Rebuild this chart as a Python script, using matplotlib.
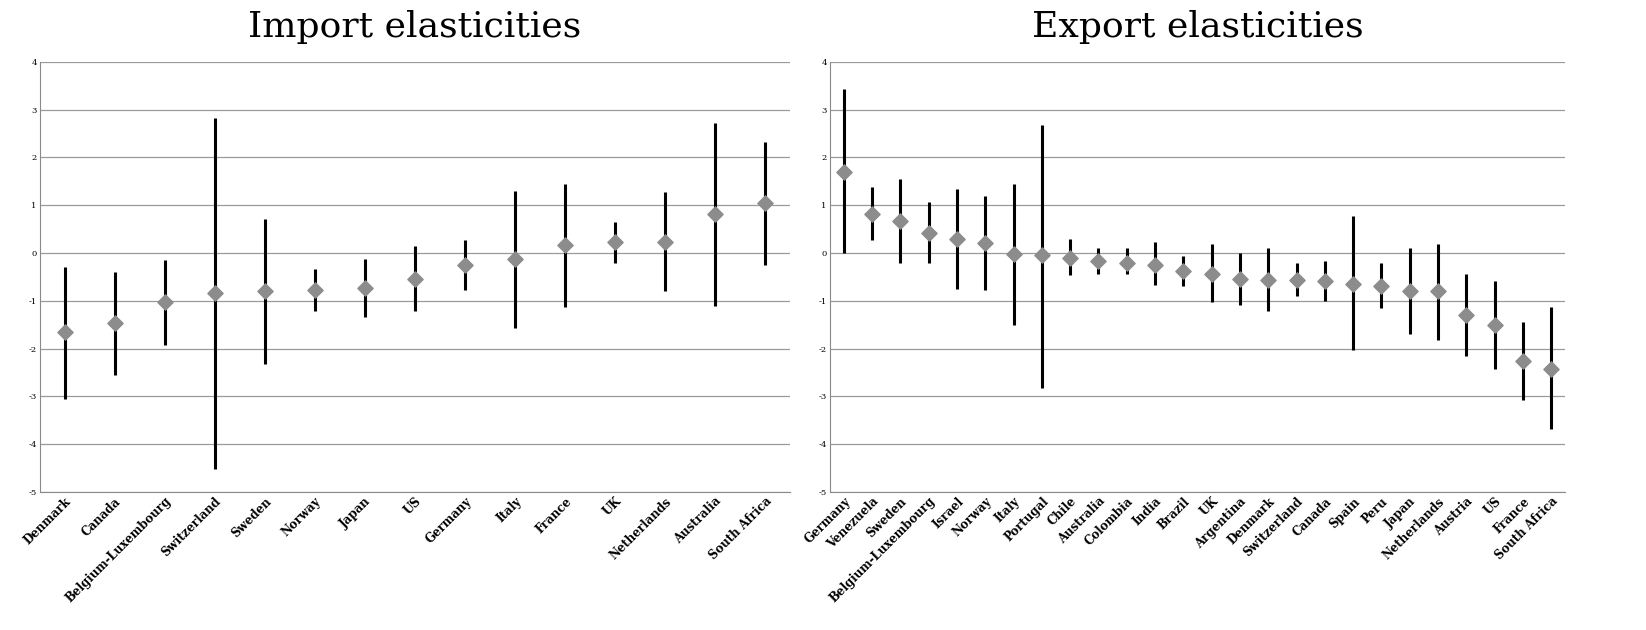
import matplotlib
matplotlib.use("Agg")
import matplotlib.pyplot as plt

imp_countries = ["Denmark","Canada","Belgium-Luxembourg","Switzerland","Sweden","Norway","Japan","US","Germany","Italy","France","UK","Netherlands","Australia","South Africa"]
imp_point = [-1.65,-1.47,-1.03,-0.83,-0.8,-0.78,-0.73,-0.55,-0.25,-0.13,0.17,0.22,0.22,0.82,1.05]
imp_low = [-3.05,-2.55,-1.92,-4.52,-2.33,-1.22,-1.33,-1.22,-0.77,-1.57,-1.12,-0.22,-0.8,-1.1,-0.25]
imp_high = [-0.3,-0.4,-0.15,2.82,0.72,-0.33,-0.13,0.15,0.27,1.3,1.45,0.65,1.27,2.72,2.32]

exp_countries = ["Germany","Venezuela","Sweden","Belgium-Luxembourg","Israel","Norway","Italy","Portugal","Chile","Australia","Colombia","India","Brazil","UK","Argentina","Denmark","Switzerland","Canada","Spain","Peru","Japan","Netherlands","Austria","US","France","South Africa"]
exp_point = [1.7,0.82,0.67,0.42,0.3,0.2,-0.02,-0.05,-0.1,-0.17,-0.2,-0.25,-0.37,-0.43,-0.55,-0.57,-0.57,-0.58,-0.65,-0.7,-0.8,-0.8,-1.3,-1.5,-2.25,-2.42]
exp_low = [0.0,0.28,-0.22,-0.22,-0.75,-0.78,-1.5,-2.82,-0.47,-0.43,-0.45,-0.68,-0.7,-1.03,-1.08,-1.22,-0.9,-1.0,-2.02,-1.15,-1.7,-1.82,-2.15,-2.42,-3.08,-3.68]
exp_high = [3.42,1.38,1.55,1.07,1.33,1.2,1.45,2.67,0.3,0.1,0.1,0.22,-0.07,0.18,0.0,0.1,-0.22,-0.17,0.77,-0.22,0.1,0.18,-0.43,-0.58,-1.45,-1.13]

fig = plt.figure(figsize=(16.46, 6.30), dpi=100)
axes = [fig.add_axes([0.024, 0.219, 0.456, 0.683]), fig.add_axes([0.504, 0.219, 0.447, 0.683])]
data = [(imp_countries, imp_point, imp_low, imp_high, "Import elasticities"),
        (exp_countries, exp_point, exp_low, exp_high, "Export elasticities")]
for ax, (c, p, lo, hi, t) in zip(axes, data):
    x = list(range(len(c)))
    ax.vlines(x, lo, hi, color="black", lw=2.2)
    ax.scatter(x, p, marker="D", s=60, color="#8c8c8c", zorder=3)
    ax.set_xlim(-0.5, len(c) - 0.5)
    ax.set_ylim(-5, 4)
    ax.set_yticks(range(-5, 5))
    ax.set_yticklabels([str(v) for v in range(-5, 5)], fontsize=6, family="DejaVu Serif")
    ax.set_xticks(x)
    ax.set_xticklabels(c, rotation=45, ha="right", rotation_mode="anchor", fontsize=8.5,
                       family="DejaVu Serif", fontweight="bold")
    ax.tick_params(length=0, pad=2)
    ax.grid(axis="y", color="#9a9a9a", lw=0.9)
    ax.set_axisbelow(True)
    for s in ["top", "right"]:
        ax.spines[s].set_visible(False)
    for s in ["left", "bottom"]:
        ax.spines[s].set_color("#8a8a8a")
    ax.set_title(t, fontsize=26, family="DejaVu Serif", pad=18)
fig.savefig("out.png", dpi=100)
